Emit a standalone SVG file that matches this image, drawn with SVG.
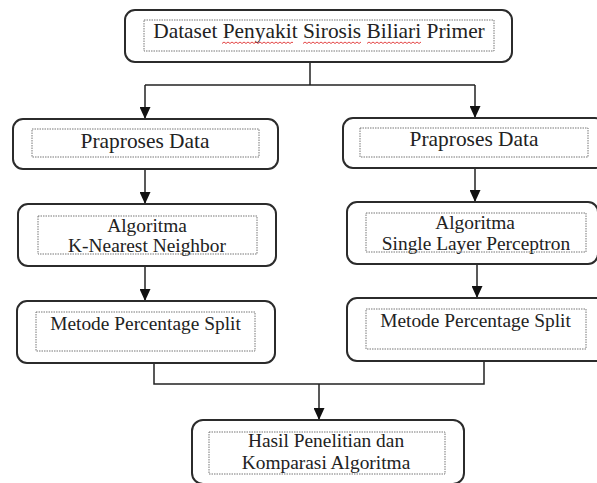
<svg xmlns="http://www.w3.org/2000/svg" width="597" height="483" viewBox="0 0 597 483">
<style>
.box{fill:#fff;stroke:#2b2b2b;stroke-width:2}
.inner{fill:none;stroke:#777;stroke-width:1;stroke-dasharray:1.5 1}
.t{font-family:"Liberation Serif","Times New Roman",serif;fill:#222;text-anchor:middle;font-size:19.4px}
.big{font-size:21.4px}
.con{fill:none;stroke:#222;stroke-width:1.5}
.sq{fill:none;stroke:#e03030;stroke-width:0.9}
</style>
<defs>
<marker id="arr" markerUnits="userSpaceOnUse" markerWidth="12" markerHeight="11" refX="12" refY="5.5" orient="auto">
<path d="M0,0 L12,5.5 L0,11 z" fill="#111"/>
</marker>
</defs>
<rect width="597" height="483" fill="#fff"/>
<g id="connectors">
<polyline class="con" points="310,62 310,85"/>
<polyline class="con" points="145,85 475,85"/>
<line class="con" x1="145" y1="85" x2="145" y2="119" marker-end="url(#arr)"/>
<line class="con" x1="475" y1="85" x2="475" y2="118" marker-end="url(#arr)"/>
<line class="con" x1="145" y1="169" x2="145" y2="204" marker-end="url(#arr)"/>
<line class="con" x1="145" y1="266" x2="145" y2="301" marker-end="url(#arr)"/>
<line class="con" x1="475" y1="168" x2="475" y2="202" marker-end="url(#arr)"/>
<line class="con" x1="477" y1="264" x2="477" y2="298" marker-end="url(#arr)"/>
<polyline class="con" points="154,363 154,384 484,384 484,361"/>
<line class="con" x1="319" y1="384" x2="319" y2="420" marker-end="url(#arr)"/>
</g>
<g id="n-dataset">
<rect class="box" x="125" y="10" width="387" height="52" rx="10"/>
<rect class="inner" x="144" y="20" width="350" height="31"/>
<text class="t big" x="319" y="38">Dataset Penyakit Sirosis Biliari Primer</text>
<path class="sq" d="M222,43.5 l2,-1.5 l2,1.5 l2,-1.5 l2,1.5 l2,-1.5 l2,1.5 l2,-1.5 l2,1.5 l2,-1.5 l2,1.5 l2,-1.5 l2,1.5 l2,-1.5 l2,1.5 l2,-1.5 l2,1.5 l2,-1.5 l2,1.5 l2,-1.5 l2,1.5 l2,-1.5 l2,1.5 l2,-1.5 l2,1.5 l2,-1.5 l2,1.5 l2,-1.5 l2,1.5 l2,-1.5 l2,1.5 l2,-1.5 l2,1.5 l2,-1.5 l2,1.5 l2,-1.5 l1,0.75"/>
<path class="sq" d="M303,43.5 l2,-1.5 l2,1.5 l2,-1.5 l2,1.5 l2,-1.5 l2,1.5 l2,-1.5 l2,1.5 l2,-1.5 l2,1.5 l2,-1.5 l2,1.5 l2,-1.5 l2,1.5 l2,-1.5 l2,1.5 l2,-1.5 l2,1.5 l2,-1.5 l2,1.5 l2,-1.5 l2,1.5 l2,-1.5 l2,1.5 l2,-1.5 l2,1.5 l2,-1.5 l2,1.5 l2,-1.5"/>
<path class="sq" d="M367,43.5 l2,-1.5 l2,1.5 l2,-1.5 l2,1.5 l2,-1.5 l2,1.5 l2,-1.5 l2,1.5 l2,-1.5 l2,1.5 l2,-1.5 l2,1.5 l2,-1.5 l2,1.5 l2,-1.5 l2,1.5 l2,-1.5 l2,1.5 l2,-1.5 l2,1.5 l2,-1.5 l2,1.5 l2,-1.5 l2,1.5 l2,-1.5 l2,1.5 l2,-1.5"/>
</g>
<g id="n-praproses-left">
<rect class="box" x="13" y="119" width="265" height="50" rx="10"/>
<rect class="inner" x="32" y="129" width="227" height="28"/>
<text class="t big" x="145" y="148">Praproses Data</text>
</g>
<g id="n-praproses-right">
<rect class="box" x="343" y="118" width="262" height="50" rx="10"/>
<rect class="inner" x="360" y="128" width="228" height="29"/>
<text class="t big" x="474" y="146">Praproses Data</text>
</g>
<g id="n-knn">
<rect class="box" x="18" y="204" width="258" height="62" rx="10"/>
<text class="t" x="147" y="232">Algoritma</text>
<text class="t" x="147" y="252">K-Nearest Neighbor</text>
<rect class="inner" x="38" y="216" width="219" height="38"/>
</g>
<g id="n-slp">
<rect class="box" x="347" y="202" width="251" height="62" rx="10"/>
<text class="t" x="475" y="229">Algoritma</text>
<text class="t" x="476" y="250">Single Layer Perceptron</text>
<rect class="inner" x="366" y="213" width="220" height="39"/>
</g>
<g id="n-split-left">
<rect class="box" x="17" y="301" width="258" height="62" rx="10"/>
<rect class="inner" x="36" y="312" width="219" height="39"/>
<text class="t" x="145.5" y="330">Metode Percentage Split</text>
</g>
<g id="n-split-right">
<rect class="box" x="347" y="298" width="260" height="63" rx="10"/>
<rect class="inner" x="366" y="309" width="220" height="40"/>
<text class="t" x="475.5" y="327">Metode Percentage Split</text>
</g>
<g id="n-hasil">
<rect class="box" x="192" y="420" width="272" height="64" rx="11"/>
<rect class="inner" x="209" y="432" width="236" height="42"/>
<text class="t" x="326" y="447">Hasil Penelitian dan</text>
<text class="t" x="326" y="469">Komparasi Algoritma</text>
</g>
</svg>
